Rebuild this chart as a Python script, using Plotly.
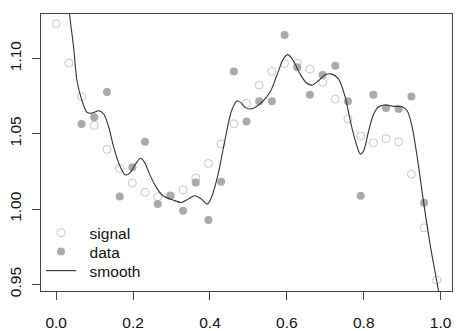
import plotly.graph_objects as go

# x positions of the observations
x_obs = [round(i * 0.033, 4) for i in range(31)]

signal_y = [1.1230, 1.0969, 1.0746, 1.0556, 1.0396, 1.0270, 1.0173, 1.0111,
            1.0082, 1.0088, 1.0128, 1.0206, 1.0303, 1.0432, 1.0566, 1.0702,
            1.0823, 1.0914, 1.0967, 1.0969, 1.0930, 1.0841, 1.0730, 1.0598,
            1.0485, 1.0440, 1.0467, 1.0447, 1.0232, 0.9876, 0.9529]

data_y = [None, None, 1.0564, 1.0609, 1.0777, 1.0084, 1.0277, 1.0447,
          1.0033, 1.0088, 0.9989, 1.0177, 0.9927, 1.0181, 1.0914, 1.0582,
          1.0715, 1.0715, 1.1155, 1.0941, 1.0759, 1.0890, 1.0952, 1.0715,
          1.0088, 1.0759, 1.0671, 1.0664, 1.0748, 1.0042, None]

smooth_x = [0.025, 0.0347, 0.0452, 0.0540, 0.0671, 0.0802, 0.0932, 0.1104,
            0.1235, 0.1366, 0.1496, 0.1671, 0.1802, 0.1932, 0.2063, 0.2193,
            0.2298, 0.2428, 0.2603, 0.2775, 0.3037, 0.3256, 0.3428, 0.3603,
            0.3778, 0.3935, 0.4039, 0.4212, 0.4386, 0.4561, 0.4708, 0.4822,
            0.4909, 0.5039, 0.5170, 0.5345, 0.5561, 0.5736, 0.5909, 0.6023,
            0.6170, 0.6345, 0.6520, 0.6650, 0.6822, 0.6997, 0.7172, 0.7345,
            0.7520, 0.7650, 0.7781, 0.7911, 0.7997, 0.8128, 0.8258, 0.8389,
            0.8564, 0.8781, 0.9000, 0.9131, 0.9261, 0.9392, 0.9564, 0.9739,
            0.9914, 0.9982]
smooth_y = [1.1600, 1.1295, 1.1074, 1.0852, 1.0719, 1.0642, 1.0637, 1.0653,
            1.0631, 1.0543, 1.0410, 1.0277, 1.0226, 1.0244, 1.0299, 1.0337,
            1.0310, 1.0232, 1.0144, 1.0088, 1.0060, 1.0044, 1.0066, 1.0088,
            1.0066, 1.0033, 1.0078, 1.0232, 1.0454, 1.0653, 1.0719, 1.0702,
            1.0675, 1.0664, 1.0675, 1.0708, 1.0775, 1.0885, 1.0996, 1.1025,
            1.0985, 1.0896, 1.0835, 1.0823, 1.0852, 1.0892, 1.0896, 1.0863,
            1.0742, 1.0586, 1.0454, 1.0365, 1.0387, 1.0520, 1.0631, 1.0679,
            1.0691, 1.0682, 1.0679, 1.0653, 1.0543, 1.0343, 1.0033, 0.9746,
            0.9502, 0.9400]

series_names = ["signal", "data", "smooth"]
x_ticks = [0.0, 0.2, 0.4, 0.6, 0.8, 1.0]
y_ticks = [0.95, 1.00, 1.05, 1.10]

FONT = "Liberation Sans, Arial, Helvetica, sans-serif"
PAD = "\u00a0\u00a0"

fig = go.Figure()
fig.add_trace(go.Scatter(
    x=x_obs, y=signal_y, mode="markers", name=PAD + series_names[0],
    legend="legend",
    marker=dict(symbol="circle-open", size=8, color="#b8cccc",
                line=dict(width=1, color="#b8cccc")),
))
fig.add_trace(go.Scatter(
    x=x_obs, y=data_y, mode="markers", name=PAD + series_names[1],
    legend="legend2",
    marker=dict(symbol="circle", size=8, color="#aaaaaa"),
))
fig.add_trace(go.Scatter(
    x=smooth_x, y=smooth_y, mode="lines", name=PAD + series_names[2],
    legend="legend3",
    line=dict(color="#333333", width=1.1, shape="spline", smoothing=0.8),
))

leg_common = dict(
    x=0.0, xanchor="left", yanchor="middle",
    bgcolor="rgba(0,0,0,0)", borderwidth=0,
    font=dict(size=15.5, family=FONT, color="#111111"),
    itemwidth=30,
)

fig.update_layout(
    width=460, height=331,
    margin=dict(l=41, r=8, t=14, b=40, autoexpand=False),
    paper_bgcolor="white", plot_bgcolor="white",
    font=dict(family=FONT, size=15.5, color="#111111"),
    showlegend=True,
    legend=dict(y=0.209, **leg_common),
    legend2=dict(y=0.141, **leg_common),
    legend3=dict(y=0.072, **leg_common),
)
fig.update_xaxes(
    range=[-0.0396, 1.0296], tickvals=x_ticks, tickformat=".1f",
    showgrid=False, zeroline=False,
    showline=True, linecolor="#444444", linewidth=1, mirror=True,
    ticks="outside", ticklen=8, tickcolor="#444444", tickwidth=1,
    ticklabelstandoff=9,
)
fig.update_yaxes(
    range=[0.9456, 1.1295], tickvals=y_ticks, tickformat=".2f",
    showgrid=False, zeroline=False,
    showline=True, linecolor="#444444", linewidth=1, mirror=True,
    ticks="outside", ticklen=8, tickcolor="#444444", tickwidth=1,
    tickangle=-90, ticklabelstandoff=5,
)

fig.write_html("out.html")
